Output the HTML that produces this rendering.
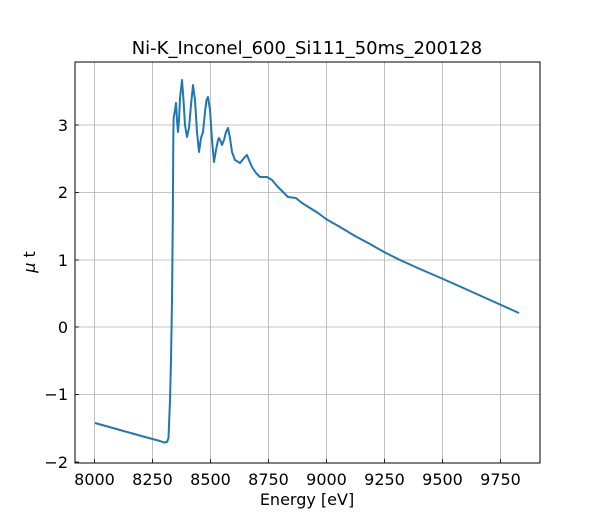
<!DOCTYPE html>
<html><head><style>body{margin:0;background:#fff}svg{display:block;font-family:"DejaVu Sans","Liberation Sans",sans-serif}</style></head>
<body>
<svg width="600" height="520" viewBox="0 0 600 520" xmlns="http://www.w3.org/2000/svg">
<rect width="600" height="520" fill="#fff"/>
<g stroke="#b0b0b0" stroke-width="0.8">
<line x1="94.5" y1="62" x2="94.5" y2="463"/><line x1="152.5" y1="62" x2="152.5" y2="463"/>
<line x1="210.5" y1="62" x2="210.5" y2="463"/><line x1="268.5" y1="62" x2="268.5" y2="463"/>
<line x1="326.5" y1="62" x2="326.5" y2="463"/><line x1="384.5" y1="62" x2="384.5" y2="463"/>
<line x1="442.5" y1="62" x2="442.5" y2="463"/><line x1="500.5" y1="62" x2="500.5" y2="463"/>
<line x1="75" y1="125" x2="540" y2="125"/><line x1="75" y1="192.5" x2="540" y2="192.5"/>
<line x1="75" y1="260" x2="540" y2="260"/><line x1="75" y1="327" x2="540" y2="327"/>
<line x1="75" y1="394.5" x2="540" y2="394.5"/>
</g>
<polyline fill="none" stroke="#1f77b4" stroke-width="2" stroke-linejoin="round" points="95,423 120,430 145,437 160,441 164,442.5 167,442 168.5,438 170,400 171,360 172,300 172.8,220 173.3,140 173.6,118 175,110 176,103 177,120 178,132 179,120 180,98 182,80 183.5,100 185,125 187,137 189,128 191,105 193,85 195,100 197,132 199,152 201,138 203,132 205,112 206.5,100 208,97 210,110 212,140 214,162 216,150 218,140 219,138 221,142 222,145 224,140 226,132 228,128 230,138 232,152 235,160 240,163 244,158 247,155 249,160 252,167 256,173 260,177 267,177 272,180 277,186 283,192 288,197 296,198 302,203 310,208 318,213 326,219 340,227 355,236 370,244 384,252 400,260 420,269 442,278.5 460,286.5 480,295.5 500,304.5 519,313"/>
<rect x="75" y="62" width="465" height="401" fill="none" stroke="#000" stroke-width="1"/>
<g stroke="#000" stroke-width="0.8">
<line x1="94.5" y1="463" x2="94.5" y2="459"/><line x1="152.5" y1="463" x2="152.5" y2="459"/>
<line x1="210.5" y1="463" x2="210.5" y2="459"/><line x1="268.5" y1="463" x2="268.5" y2="459"/>
<line x1="326.5" y1="463" x2="326.5" y2="459"/><line x1="384.5" y1="463" x2="384.5" y2="459"/>
<line x1="442.5" y1="463" x2="442.5" y2="459"/><line x1="500.5" y1="463" x2="500.5" y2="459"/>
<line x1="75" y1="125" x2="79" y2="125"/><line x1="75" y1="192.5" x2="79" y2="192.5"/>
<line x1="75" y1="260" x2="79" y2="260"/><line x1="75" y1="327" x2="79" y2="327"/>
<line x1="75" y1="394.5" x2="79" y2="394.5"/><line x1="75" y1="462" x2="79" y2="462"/>
</g>
<g font-size="16" fill="#000" text-anchor="middle">
<text x="94.5" y="485">8000</text><text x="152.5" y="485">8250</text><text x="210.5" y="485">8500</text>
<text x="268.5" y="485">8750</text><text x="326.5" y="485">9000</text><text x="384.5" y="485">9250</text>
<text x="442.5" y="485">9500</text><text x="500.5" y="485">9750</text>
<text x="307" y="505">Energy [eV]</text>
</g>
<g font-size="16" fill="#000" text-anchor="end">
<text x="68" y="131">3</text><text x="68" y="198">2</text><text x="68" y="266">1</text>
<text x="68" y="333">0</text><text x="68" y="400">−1</text><text x="68" y="468">−2</text>
</g>
<text x="0" y="0" font-size="16" text-anchor="middle" transform="translate(35,262) rotate(-90)"><tspan font-style="italic">μ</tspan> t</text>
<text x="307" y="54" font-size="18" text-anchor="middle">Ni-K_Inconel_600_Si111_50ms_200128</text>
</svg>
</body></html>
